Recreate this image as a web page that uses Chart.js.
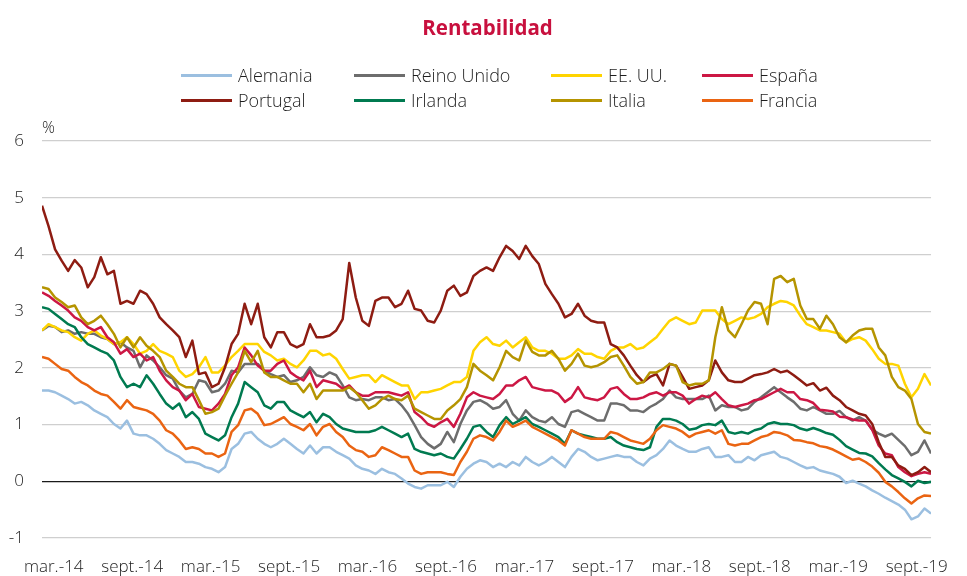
<!DOCTYPE html>
<html>
<head>
<meta charset="utf-8">
<script src="https://cdn.jsdelivr.net/npm/chart.js@4.4.1/dist/chart.umd.min.js"></script>
<style>
  html, body { margin: 0; padding: 0; background: #ffffff; }
  #wrap { position: relative; width: 967px; height: 576px; overflow: hidden; font-family: "Open Sans", "Noto Sans", sans-serif; }
  #chart { position: absolute; left: 0; top: 0; }
  #title { position: absolute; left: 0; width: 975px; top: 12px; text-align: center; font-weight: bold; font-size: 20.5px; color: #c8103e; line-height: 30px; }
  .lg { position: absolute; height: 24px; display: flex; align-items: center; font-size: 18px; font-weight: 300; color: #1e1e1e; white-space: nowrap; }
  .lg .ln { display: inline-block; width: 51px; height: 3px; margin-right: 6px; }
  #pct { position: absolute; left: 42px; top: 116px; font-size: 16px; font-weight: 300; color: #1e1e1e; line-height: 22px; }
</style>
</head>
<body>
<div id="wrap">
  <canvas id="chart" width="967" height="576"></canvas>
  <div id="title">Rentabilidad</div>
  <div id="pct">%</div>
</div>
<script>
// ---- Data (half-monthly readings, first sample ~mid Feb 2014) ----
const seriesNames = ["Alemania", "Reino Unido", "EE. UU.", "España", "Portugal", "Irlanda", "Italia", "Francia"];
const tickLabels = ["mar.-14","sept.-14","mar.-15","sept.-15","mar.-16","sept.-16","mar.-17","sept.-17","mar.-18","sept.-18","mar.-19","sept.-19"];
const tickMonths = [0, 6, 12, 18, 24, 30, 36, 42, 48, 54, 60, 66]; // months after March 2014
const firstSampleMonth = -0.9;
const sampleStepMonths = 0.5;

const alemania = [1.6,1.6,1.57,1.51,1.45,1.37,1.4,1.34,1.25,1.19,1.13,1.01,0.93,1.07,0.84,0.81,0.81,0.75,0.66,0.55,0.49,0.43,0.34,
0.34,0.31,0.25,0.22,0.16,0.25,0.57,0.66,0.84,0.87,0.75,0.66,0.6,0.66,0.75,0.66,0.57,0.49,0.63,0.49,0.6,0.6,
0.52,0.46,0.4,0.28,0.22,0.19,0.13,0.22,0.16,0.13,0.05,-0.04,-0.1,-0.13,-0.07,-0.07,-0.07,-0.01,-0.1,0.08,0.22,0.31,0.37,
0.34,0.25,0.31,0.25,0.34,0.28,0.43,0.34,0.28,0.34,0.43,0.34,0.25,0.43,0.57,0.52,0.43,0.37,0.4,0.43,0.46,0.43,0.43,
0.34,0.28,0.4,0.46,0.57,0.72,0.63,0.57,0.52,0.52,0.57,0.6,0.43,0.43,0.46,0.34,0.34,0.43,0.37,0.46,0.49,0.52,
0.43,0.4,0.34,0.28,0.23,0.25,0.19,0.16,0.13,0.08,-0.03,0.01,-0.04,-0.09,-0.16,-0.22,-0.29,-0.35,-0.41,-0.5,-0.67,-0.62,-0.48,-0.57];

const reinoUnido = [2.66,2.74,2.72,2.63,2.66,2.6,2.63,2.6,2.6,2.54,2.51,2.42,2.45,2.36,2.3,2.01,2.22,2.13,2.01,1.87,1.81,1.6,1.48,
1.54,1.78,1.75,1.57,1.6,1.72,1.95,1.92,2.07,2.07,2.07,1.95,1.89,1.84,1.87,1.75,1.78,1.84,2.01,1.87,1.84,1.92,
1.87,1.69,1.48,1.43,1.45,1.43,1.48,1.48,1.43,1.45,1.34,1.19,0.99,0.78,0.66,0.58,0.66,0.87,0.69,1.01,1.25,1.4,1.43,
1.37,1.28,1.31,1.43,1.19,1.07,1.25,1.13,1.07,1.04,1.13,1.01,0.96,1.22,1.25,1.19,1.13,1.07,1.07,1.37,1.37,1.34,1.25,
1.25,1.22,1.31,1.37,1.45,1.6,1.48,1.45,1.45,1.45,1.45,1.51,1.25,1.34,1.31,1.31,1.25,1.28,1.4,1.48,1.57,1.66,
1.57,1.48,1.4,1.28,1.25,1.31,1.25,1.19,1.19,1.24,1.13,1.07,1.13,1.07,0.91,0.84,0.79,0.84,0.73,0.62,0.46,0.52,0.72,0.49];

const eeuu = [2.66,2.77,2.72,2.66,2.63,2.54,2.48,2.6,2.66,2.57,2.51,2.42,2.45,2.54,2.42,2.25,2.3,2.42,2.3,2.25,2.19,1.95,1.84,
1.89,2.01,2.19,1.92,1.92,2.04,2.19,2.3,2.42,2.42,2.42,2.28,2.22,2.13,2.16,2.07,2.01,2.13,2.3,2.3,2.22,2.25,
2.16,1.98,1.81,1.84,1.87,1.87,1.75,1.87,1.81,1.75,1.69,1.69,1.45,1.57,1.57,1.6,1.63,1.69,1.75,1.75,1.84,2.3,2.45,
2.54,2.42,2.39,2.48,2.36,2.45,2.54,2.36,2.3,2.3,2.25,2.16,2.16,2.22,2.33,2.25,2.25,2.19,2.16,2.3,2.36,2.36,2.42,
2.33,2.36,2.45,2.54,2.69,2.83,2.89,2.83,2.77,2.8,3.01,3.01,3.01,2.86,2.77,2.83,2.89,2.86,2.89,2.95,3.07,3.13,
3.18,3.16,3.1,2.92,2.77,2.72,2.66,2.66,2.63,2.6,2.45,2.51,2.54,2.48,2.33,2.16,2.07,2.07,2.04,1.72,1.48,1.63,1.89,1.69];

const espana = [3.33,3.27,3.18,3.1,3.01,2.89,2.83,2.72,2.66,2.72,2.54,2.45,2.25,2.33,2.19,2.25,2.13,2.19,1.95,1.78,1.66,1.6,1.43,
1.54,1.31,1.28,1.25,1.37,1.54,1.87,2.01,2.36,2.22,2.04,1.95,1.95,2.07,2.13,1.92,1.84,1.78,1.95,1.66,1.78,1.75,
1.72,1.63,1.69,1.57,1.51,1.51,1.57,1.57,1.57,1.54,1.51,1.57,1.22,1.13,1.01,0.96,1.04,1.1,0.96,1.19,1.48,1.57,1.51,
1.48,1.45,1.54,1.69,1.69,1.78,1.84,1.66,1.63,1.6,1.6,1.54,1.4,1.48,1.66,1.48,1.45,1.43,1.48,1.63,1.66,1.54,1.45,
1.45,1.48,1.54,1.57,1.51,1.57,1.57,1.51,1.37,1.45,1.51,1.48,1.57,1.45,1.34,1.31,1.34,1.37,1.43,1.45,1.51,1.57,
1.63,1.57,1.57,1.45,1.43,1.38,1.26,1.25,1.23,1.14,1.13,1.09,1.07,1.07,0.91,0.63,0.49,0.46,0.25,0.16,0.09,0.13,0.16,0.13];

const portugal = [4.86,4.5,4.09,3.89,3.71,3.9,3.77,3.42,3.6,3.95,3.65,3.71,3.13,3.18,3.13,3.36,3.3,3.13,2.89,2.77,2.66,2.54,2.19,
2.48,1.89,1.92,1.66,1.72,2.01,2.42,2.6,3.13,2.77,3.13,2.54,2.36,2.63,2.63,2.42,2.36,2.42,2.77,2.54,2.54,2.57,
2.66,2.86,3.85,3.24,2.83,2.74,3.18,3.24,3.24,3.07,3.13,3.36,3.04,3.01,2.83,2.8,3.01,3.36,3.45,3.27,3.33,3.62,3.71,
3.77,3.71,3.95,4.15,4.06,3.92,4.15,3.97,3.83,3.48,3.3,3.13,2.89,2.95,3.13,2.92,2.83,2.8,2.8,2.42,2.36,2.22,2.04,
1.87,1.75,1.84,1.89,1.69,2.07,2.04,1.84,1.63,1.66,1.69,1.78,2.13,1.92,1.78,1.75,1.75,1.81,1.87,1.89,1.92,1.98,
1.92,1.95,1.87,1.78,1.69,1.73,1.6,1.65,1.51,1.43,1.31,1.25,1.19,1.16,1.01,0.69,0.43,0.43,0.28,0.22,0.11,0.16,0.25,0.16];

const irlanda = [3.07,3.04,2.95,2.86,2.77,2.72,2.54,2.42,2.36,2.3,2.25,2.13,1.84,1.66,1.72,1.66,1.87,1.72,1.54,1.37,1.28,1.37,1.13,
1.22,1.1,0.84,0.78,0.72,0.81,1.13,1.37,1.75,1.66,1.57,1.34,1.28,1.4,1.4,1.25,1.19,1.13,1.22,1.04,1.19,1.13,
1.01,0.93,0.9,0.87,0.87,0.87,0.9,0.96,0.9,0.84,0.78,0.84,0.57,0.52,0.49,0.46,0.49,0.43,0.4,0.57,0.75,0.96,0.99,
0.87,0.78,0.99,1.13,1.01,1.07,1.13,1.01,0.96,0.9,0.84,0.78,0.66,0.9,0.84,0.81,0.78,0.75,0.75,0.78,0.69,0.63,0.6,
0.57,0.55,0.6,0.96,1.1,1.1,1.07,1.01,0.91,0.93,0.99,1.01,0.99,1.07,0.87,0.84,0.87,0.84,0.9,0.93,1.01,1.04,
1.01,1.01,0.99,0.93,0.9,0.94,0.9,0.85,0.82,0.73,0.62,0.56,0.5,0.49,0.44,0.32,0.21,0.11,0.05,-0.01,-0.09,0.01,-0.03,-0.01];

const italia = [3.42,3.39,3.24,3.16,3.07,3.1,2.89,2.77,2.83,2.92,2.77,2.6,2.36,2.54,2.36,2.54,2.39,2.3,2.19,1.95,1.84,1.72,1.66,
1.66,1.43,1.19,1.22,1.28,1.51,1.72,1.92,2.3,2.1,2.3,1.92,1.84,1.84,1.78,1.72,1.72,1.57,1.72,1.45,1.6,1.6,
1.6,1.6,1.66,1.57,1.43,1.28,1.34,1.45,1.51,1.45,1.43,1.51,1.28,1.22,1.16,1.1,1.1,1.25,1.34,1.45,1.66,2.07,1.95,
1.87,1.78,2.01,2.3,2.19,2.13,2.48,2.28,2.22,2.22,2.3,2.16,1.95,2.07,2.25,2.04,2.01,2.04,2.1,2.19,2.22,2.04,1.84,
1.72,1.75,1.92,1.92,1.98,2.07,2.04,1.75,1.69,1.72,1.72,1.78,2.54,3.07,2.66,2.54,2.77,3.01,3.16,3.13,2.77,3.57,
3.62,3.51,3.57,3.1,2.86,2.86,2.69,2.92,2.77,2.54,2.45,2.57,2.66,2.69,2.69,2.36,2.22,1.84,1.66,1.6,1.45,1.01,0.87,0.84];

const francia = [2.19,2.16,2.07,1.98,1.95,1.84,1.75,1.69,1.6,1.54,1.51,1.4,1.28,1.43,1.31,1.28,1.25,1.19,1.07,0.9,0.84,0.72,0.57,
0.6,0.57,0.49,0.49,0.43,0.49,0.87,0.99,1.25,1.28,1.19,0.99,1.01,1.07,1.13,1.01,0.96,0.9,1.01,0.81,0.96,1.01,
0.87,0.78,0.63,0.55,0.52,0.43,0.46,0.6,0.55,0.49,0.43,0.43,0.19,0.13,0.16,0.16,0.16,0.13,0.11,0.34,0.52,0.75,0.81,
0.78,0.72,0.87,1.07,0.96,1.01,1.07,0.96,0.9,0.84,0.78,0.72,0.63,0.9,0.84,0.78,0.75,0.75,0.75,0.87,0.84,0.78,0.72,
0.69,0.66,0.75,0.9,0.99,0.96,0.93,0.87,0.78,0.84,0.87,0.9,0.84,0.9,0.66,0.63,0.66,0.66,0.72,0.78,0.81,0.87,
0.85,0.81,0.73,0.72,0.69,0.67,0.62,0.6,0.56,0.5,0.44,0.38,0.4,0.34,0.26,0.15,-0.01,-0.09,-0.19,-0.3,-0.39,-0.3,-0.25,-0.26];

const seriesValues = [alemania, reinoUnido, eeuu, espana, portugal, irlanda, italia, francia];
const seriesColors = ["#9bbfe0", "#6d6d6d", "#ffd400", "#cc1744", "#8e1c12", "#007a50", "#b59400", "#ea6412"];

// ---- Legend (HTML, 4 columns x 2 rows) ----
const legendCols = [181, 354, 551, 702];
const legendRows = [63, 88];
const wrap = document.getElementById('wrap');
seriesNames.forEach((name, i) => {
  const d = document.createElement('div');
  d.className = 'lg';
  d.style.left = legendCols[i % 4] + 'px';
  d.style.top = legendRows[Math.floor(i / 4)] + 'px';
  const ln = document.createElement('span');
  ln.className = 'ln';
  ln.style.background = seriesColors[i];
  const tx = document.createElement('span');
  tx.textContent = name;
  d.appendChild(ln); d.appendChild(tx);
  wrap.appendChild(d);
});

// ---- Chart ----
const datasets = seriesNames.map((name, i) => ({
  label: name,
  data: seriesValues[i].map((v, k) => ({ x: firstSampleMonth + k * sampleStepMonths, y: v })),
  borderColor: seriesColors[i],
  backgroundColor: seriesColors[i],
  borderWidth: 2.5,
  pointRadius: 0,
  tension: 0,
  fill: false,
  borderJoinStyle: 'round',
  order: seriesNames.length - i
}));

const tickFont = { family: '"Open Sans", "Noto Sans", sans-serif', size: 17, weight: '300' };

new Chart(document.getElementById('chart'), {
  type: 'line',
  data: { datasets },
  options: {
    responsive: false,
    animation: false,
    devicePixelRatio: 1,
    layout: { padding: { top: 141, right: 22, bottom: 0, left: 0 } },
    plugins: { legend: { display: false }, title: { display: false }, tooltip: { enabled: false } },
    scales: {
      x: {
        type: 'linear',
        min: firstSampleMonth,
        max: firstSampleMonth + (alemania.length - 1) * sampleStepMonths,
        afterBuildTicks: (scale) => { scale.ticks = tickMonths.map(v => ({ value: v })); },
        afterFit: (scale) => { scale.height = 38; },
        grid: { display: false, drawTicks: false },
        border: { display: false },
        ticks: {
          autoSkip: false, maxRotation: 0, padding: 19, color: '#1e1e1e', font: tickFont,
          callback: (value) => { const k = tickMonths.indexOf(value); return k >= 0 ? tickLabels[k] : ''; }
        }
      },
      y: {
        min: -1, max: 6,
        afterFit: (scale) => { scale.width = 42; },
        grid: {
          drawTicks: false,
          color: (ctx) => ctx.tick && ctx.tick.value === 0 ? '#1a1a1a' : '#cfcfcf',
          lineWidth: 1.2
        },
        border: { display: false },
        ticks: { stepSize: 1, padding: 18, color: '#1e1e1e', font: tickFont }
      }
    }
  }
});
</script>
</body>
</html>
